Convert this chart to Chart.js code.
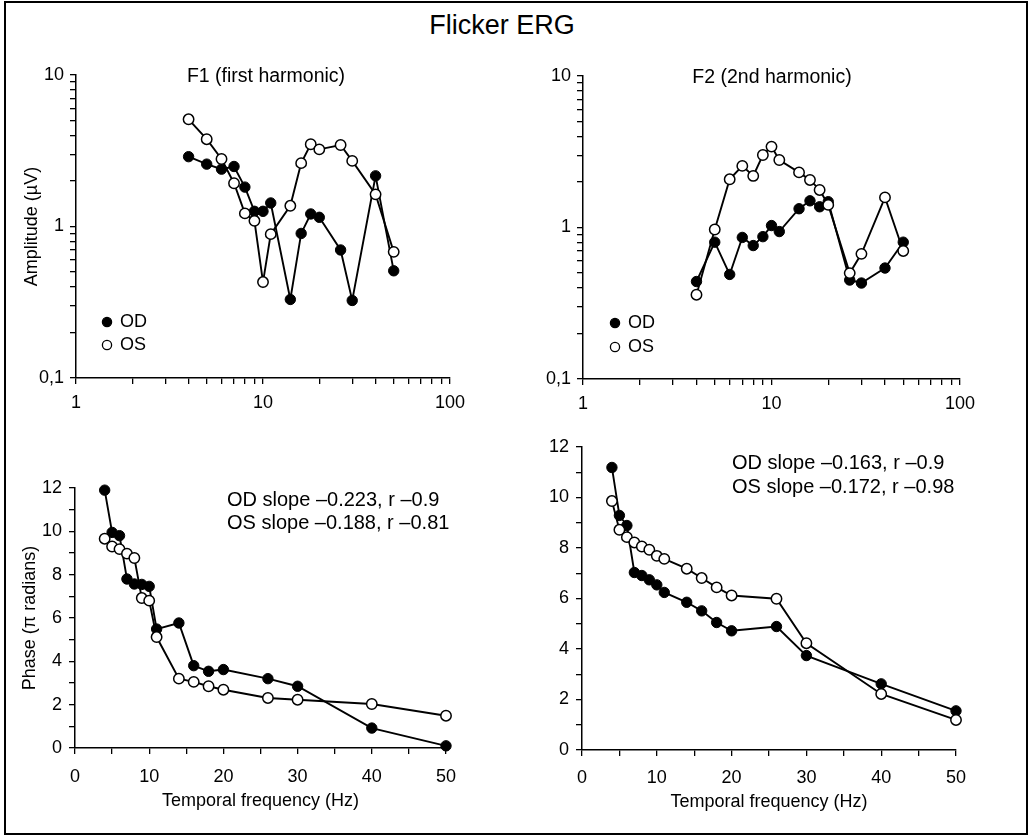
<!DOCTYPE html>
<html>
<head>
<meta charset="utf-8">
<title>Flicker ERG</title>
<script src="https://cdn.jsdelivr.net/npm/chart.js@4.4.1/dist/chart.umd.min.js"></script>
<style>
  body { margin: 0; background: #fff; }
  #page { position: relative; width: 1034px; height: 838px; font-family: "Liberation Sans", Arial, sans-serif; color: #000; }
  #frame { position: absolute; left: 4px; top: 1px; width: 1024px; height: 834px; border: 2px solid #000; box-sizing: border-box; }
  #title { position: absolute; left: 402px; width: 200px; top: 10px; line-height: 30px; text-align: center; font-size: 27px; }
  canvas { position: absolute; }
</style>
</head>
<body>
<div id="page">
  <div id="frame"></div>
  <div id="title">Flicker ERG</div>
  <canvas id="ampF1" width="500" height="400" style="left:0;top:40px"></canvas>
  <canvas id="ampF2" width="534" height="400" style="left:500px;top:40px"></canvas>
  <canvas id="phaseF1" width="500" height="398" style="left:0;top:440px"></canvas>
  <canvas id="phaseF2" width="534" height="438" style="left:500px;top:400px"></canvas>
</div>
<script>
// stimulus frequencies (Hz), same for every series
const freqs = [4, 5, 6, 7, 8, 9, 10, 11, 14, 16, 18, 20, 26, 30, 40, 50];

// amplitude (µV)
const f1AmpOD = [2.89, 2.58, 2.39, 2.49, 1.82, 1.26, 1.26, 1.43, 0.33, 0.90, 1.21, 1.15, 0.70, 0.325, 2.16, 0.51];
const f1AmpOS = [5.1, 3.77, 2.79, 1.93, 1.22, 1.09, 0.43, 0.89, 1.37, 2.62, 3.49, 3.23, 3.45, 2.71, 1.63, 0.68];
const f2AmpOD = [0.44, 0.80, 0.49, 0.86, 0.76, 0.87, 1.03, 0.94, 1.33, 1.50, 1.37, 1.48, 0.45, 0.43, 0.54, 0.80];
const f2AmpOS = [0.36, 0.97, 2.08, 2.55, 2.19, 3.01, 3.42, 2.79, 2.31, 2.06, 1.77, 1.41, 0.50, 0.67, 1.58, 0.70];

// phase (pi radians)
const f1PhaseOD = [11.9, 9.95, 9.8, 7.8, 7.57, 7.55, 7.46, 5.49, 5.77, 3.8, 3.54, 3.62, 3.2, 2.85, 0.92, 0.1];
const f1PhaseOS = [9.66, 9.3, 9.18, 8.97, 8.77, 6.92, 6.8, 5.12, 3.2, 3.05, 2.85, 2.69, 2.31, 2.23, 2.03, 1.49];
const f2PhaseOD = [11.19, 9.29, 8.89, 7.03, 6.91, 6.74, 6.54, 6.24, 5.85, 5.51, 5.05, 4.72, 4.89, 3.74, 2.62, 1.55];
const f2PhaseOS = [9.86, 8.72, 8.43, 8.22, 8.06, 7.93, 7.69, 7.57, 7.18, 6.81, 6.44, 6.12, 5.99, 4.23, 2.22, 1.19];

// ticks
const freqTicksLog = [1, 2, 3, 4, 5, 6, 7, 8, 9, 10, 20, 30, 40, 50, 60, 70, 80, 90, 100];
const freqLabelsLog = [1, 10, 100];
const ampTicks = [0.1, 0.2, 0.3, 0.4, 0.5, 0.6, 0.7, 0.8, 0.9, 1, 2, 3, 4, 5, 6, 7, 8, 9, 10];
const ampLabelValues = [0.1, 1, 10];
const ampLabelText = ['0,1', '1', '10'];
const freqLabelsLin = [0, 10, 20, 30, 40, 50];
const phaseLabels = [0, 2, 4, 6, 8, 10, 12];

const FONT = '"Liberation Sans", Arial, Helvetica, sans-serif';
const INK = '#000';

function pts(ys) {
  return freqs.map((f, i) => ({ x: f, y: ys[i] }));
}

function series(label, ys, filled) {
  return {
    label: label,
    data: pts(ys),
    order: filled ? 2 : 1,
    borderColor: '#000',
    borderWidth: 1.9,
    pointRadius: 5.2,
    pointHoverRadius: 5.2,
    pointBorderWidth: filled ? 1 : 1.5,
    pointBorderColor: '#000',
    pointBackgroundColor: filled ? '#000' : '#fff',
    tension: 0,
    fill: false,
    clip: false
  };
}

// subtitles, slope notes and the little OD/OS key, placed relative to the plot area
const panelText = {
  id: 'panelText',
  afterDraw(chart, args, opts) {
    const ctx = chart.ctx;
    const area = chart.chartArea;
    ctx.save();
    ctx.textBaseline = 'middle';
    (opts.lines || []).forEach(l => {
      ctx.fillStyle = INK;
      ctx.font = (l.size || 20) + 'px ' + FONT;
      ctx.textAlign = l.align || 'left';
      ctx.fillText(l.text, area.left + l.dx, area.top + l.dy);
    });
    if (opts.key) {
      chart.data.datasets.forEach((ds, i) => {
        const x = area.left + opts.key.dx;
        const y = area.bottom + opts.key.dy + i * opts.key.gap;
        ctx.beginPath();
        ctx.arc(x, y, 4.6, 0, Math.PI * 2);
        ctx.fillStyle = ds.pointBackgroundColor;
        ctx.fill();
        ctx.lineWidth = 1.3;
        ctx.strokeStyle = '#000';
        ctx.stroke();
        ctx.fillStyle = INK;
        ctx.textAlign = 'left';
        ctx.font = '18px ' + FONT;
        ctx.fillText(ds.label, x + 13, y);
      });
    }
    ctx.restore();
  }
};

function axisBase() {
  return {
    border: { display: true, color: '#000', width: 1.5 },
    grid: { display: true, drawOnChartArea: false, drawTicks: true, tickLength: 6, color: '#000', lineWidth: 1.3 }
  };
}

function logX(h, pad) {
  return Object.assign(axisBase(), {
    type: 'logarithmic', min: 1, max: 100,
    afterBuildTicks: s => { s.ticks = freqTicksLog.map(v => ({ value: v })); },
    afterFit: s => { s.height = h; },
    ticks: {
      autoSkip: false, maxRotation: 0, padding: pad, color: INK, font: { family: FONT, size: 18 },
      callback: v => freqLabelsLog.includes(v) ? String(v) : ''
    }
  });
}

function logY(w, title) {
  return Object.assign(axisBase(), {
    type: 'logarithmic', min: 0.1, max: 10,
    afterBuildTicks: s => { s.ticks = ampTicks.map(v => ({ value: v })); },
    afterFit: s => { s.width = w; },
    title: { display: !!title, text: title || '', color: INK, font: { family: FONT, size: 18 }, padding: { top: 4, bottom: 4 } },
    ticks: {
      autoSkip: false, padding: 6, color: INK, font: { family: FONT, size: 18 },
      callback: v => {
        const k = ampLabelValues.indexOf(v);
        return k >= 0 ? ampLabelText[k] : '';
      }
    }
  });
}

function linX(h, pad) {
  return Object.assign(axisBase(), {
    type: 'linear', min: 0, max: 50,
    afterFit: s => { s.height = h; },
    title: { display: true, text: 'Temporal frequency (Hz)', color: INK, font: { family: FONT, size: 18 }, padding: { top: 4, bottom: 4 } },
    ticks: {
      stepSize: 5, autoSkip: false, maxRotation: 0, padding: pad, color: INK, font: { family: FONT, size: 18 },
      callback: v => freqLabelsLin.includes(v) ? String(v) : ''
    }
  });
}

function linY(w, title) {
  return Object.assign(axisBase(), {
    type: 'linear', min: 0, max: 12,
    afterFit: s => { s.width = w; },
    title: { display: !!title, text: title || '', color: INK, font: { family: FONT, size: 18 }, padding: { top: 4, bottom: 4 } },
    ticks: {
      stepSize: 1, autoSkip: false, padding: 7, color: INK, font: { family: FONT, size: 18 },
      callback: v => phaseLabels.includes(v) ? String(v) : ''
    }
  });
}

function makeChart(id, datasets, scales, padding, text) {
  return new Chart(document.getElementById(id), {
    type: 'line',
    data: { datasets: datasets },
    options: {
      responsive: false,
      animation: false,
      events: [],
      layout: { padding: padding },
      scales: scales,
      plugins: {
        legend: { display: false },
        tooltip: { enabled: false },
        panelText: text
      }
    },
    plugins: [panelText]
  });
}

makeChart('ampF1',
  [series('OD', f1AmpOD, true), series('OS', f1AmpOS, false)],
  { x: logX(52, 8), y: logY(59, 'Amplitude (µV)') },
  { left: 17, top: 35, right: 50, bottom: 10 },
  { lines: [{ text: 'F1 (first harmonic)', dx: 190, dy: 2, align: 'center', size: 19.5 }], key: { dx: 31, dy: -56, gap: 23 } }
);

makeChart('ampF2',
  [series('OD', f2AmpOD, true), series('OS', f2AmpOS, false)],
  { x: logX(51, 8), y: logY(63, '') },
  { left: 20, top: 36, right: 74, bottom: 10 },
  { lines: [{ text: 'F2 (2nd harmonic)', dx: 189, dy: 2, align: 'center', size: 19.5 }], key: { dx: 32, dy: -56, gap: 24 } }
);

makeChart('phaseF1',
  [series('OD', f1PhaseOD, true), series('OS', f1PhaseOS, false)],
  { x: linX(68, 12), y: linY(60, 'Phase (π radians)') },
  { left: 15, top: 48, right: 54, bottom: 22 },
  { lines: [
      { text: 'OD slope –0.223, r –0.9', dx: 152, dy: 12 },
      { text: 'OS slope –0.188, r –0.81', dx: 152, dy: 35 }
  ] }
);

makeChart('phaseF2',
  [series('OD', f2PhaseOD, true), series('OS', f2PhaseOS, false)],
  { x: linX(67, 11), y: linY(62, '') },
  { left: 20, top: 47, right: 78, bottom: 21 },
  { lines: [
      { text: 'OD slope –0.163, r –0.9', dx: 150, dy: 16 },
      { text: 'OS slope –0.172, r –0.98', dx: 150, dy: 40 }
  ] }
);
</script>
</body>
</html>
